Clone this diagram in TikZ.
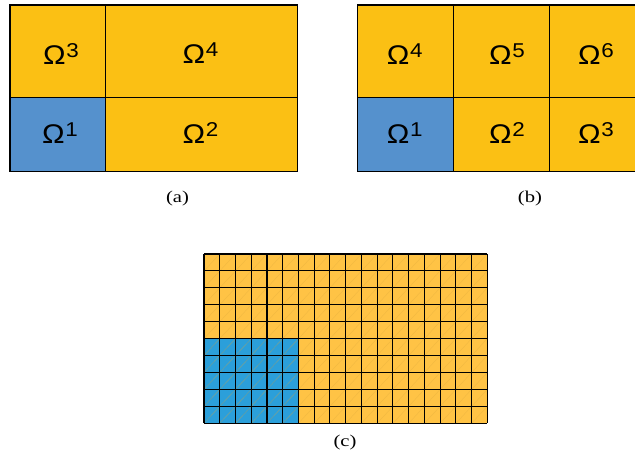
\documentclass[tikz,border=0pt]{standalone}
\usepackage{fontspec}
\setmainfont[FakeStretch=1.25]{Liberation Serif}
\newfontfamily\omfont[FakeStretch=1.12]{Liberation Sans}
\definecolor{orA}{HTML}{FBC014}
\definecolor{blA}{HTML}{5591CD}
\definecolor{orC}{HTML}{FFC345}
\definecolor{blC}{HTML}{2B9FDA}
\newcommand{\Om}[1]{{\fontsize{27}{29}\selectfont Ω}\kern0.5pt\raisebox{7pt}{\fontsize{20}{22}\selectfont #1}}
\tikzset{
  cellbox/.style={draw=black, line width=1.2pt},
  gridline/.style={draw=black, line width=1.1pt},
  omlabel/.style={font=\omfont, inner sep=0pt, anchor=base},
  caplabel/.style={font=\fontsize{16.5}{18}\selectfont, inner sep=0pt},
}
\begin{document}
\begin{tikzpicture}[x=1pt,y=-1pt]
\useasboundingbox (0,0) rectangle (635,459);
\clip (0,0) rectangle (635,459);
% (a)
\fill[orA] (10,5) rectangle (297.5,171.5);
\fill[blA] (10,97.7) rectangle (105.7,171.5);
\draw[cellbox] (10,5) rectangle (297.5,171.5);
\draw[cellbox] (105.7,5) -- (105.7,171.5);
\draw[cellbox] (10,97.7) -- (297.5,97.7);
\node[omlabel] (a3) at (61,64.5) {\Om{3}};
\node[omlabel] (a4) at (200.5,63.5) {\Om{4}};
\node[omlabel] (a1) at (60,143.3) {\Om{1}};
\node[omlabel] (a2) at (200.5,143.3) {\Om{2}};
\node[caplabel] (capa) at (177.5,199) {(a)};
% (b)
\fill[orA] (357.3,5) rectangle (660,171.5);
\fill[blA] (357.3,97.7) rectangle (453.7,171.5);
\draw[cellbox] (660,5) -- (357.3,5) -- (357.3,171.5) -- (660,171.5);
\draw[cellbox] (453.7,5) -- (453.7,171.5);
\draw[cellbox] (549.7,5) -- (549.7,171.5);
\draw[cellbox] (357.3,97.7) -- (660,97.7);
\node[omlabel] (b4) at (404.7,64) {\Om{4}};
\node[omlabel] (b5) at (507,64) {\Om{5}};
\node[omlabel] (b6) at (596,64) {\Om{6}};
\node[omlabel] (b1) at (404.7,143.3) {\Om{1}};
\node[omlabel] (b2) at (507,143.3) {\Om{2}};
\node[omlabel] (b3) at (596,143.3) {\Om{3}};
\node[caplabel] (capb) at (530,199) {(b)};
% (c)
\begin{scope}[shift={(204,254)}, x=15.74pt, y=-16.93pt]
\fill[orC] (0,0) rectangle (18,10);
\fill[blC] (0,5) rectangle (6,10);
\foreach \i in {0,...,17}{\foreach \j in {0,...,9}{
  \draw[orC!94!black, line width=0.35pt] (\i,\j+1) -- (\i+1,\j);}}
\foreach \i in {0,...,5}{\foreach \j in {5,...,9}{
  \draw[blC!94!black, line width=0.35pt] (\i,\j+1) -- (\i+1,\j);}}
\foreach \i in {0,...,18}{\draw[gridline] (\i,0) -- (\i,10);}
\foreach \j in {0,...,10}{\draw[gridline] (0,\j) -- (18,\j);}
\end{scope}
\node[caplabel] (capc) at (345,443) {(c)};
\end{tikzpicture}
\end{document}
